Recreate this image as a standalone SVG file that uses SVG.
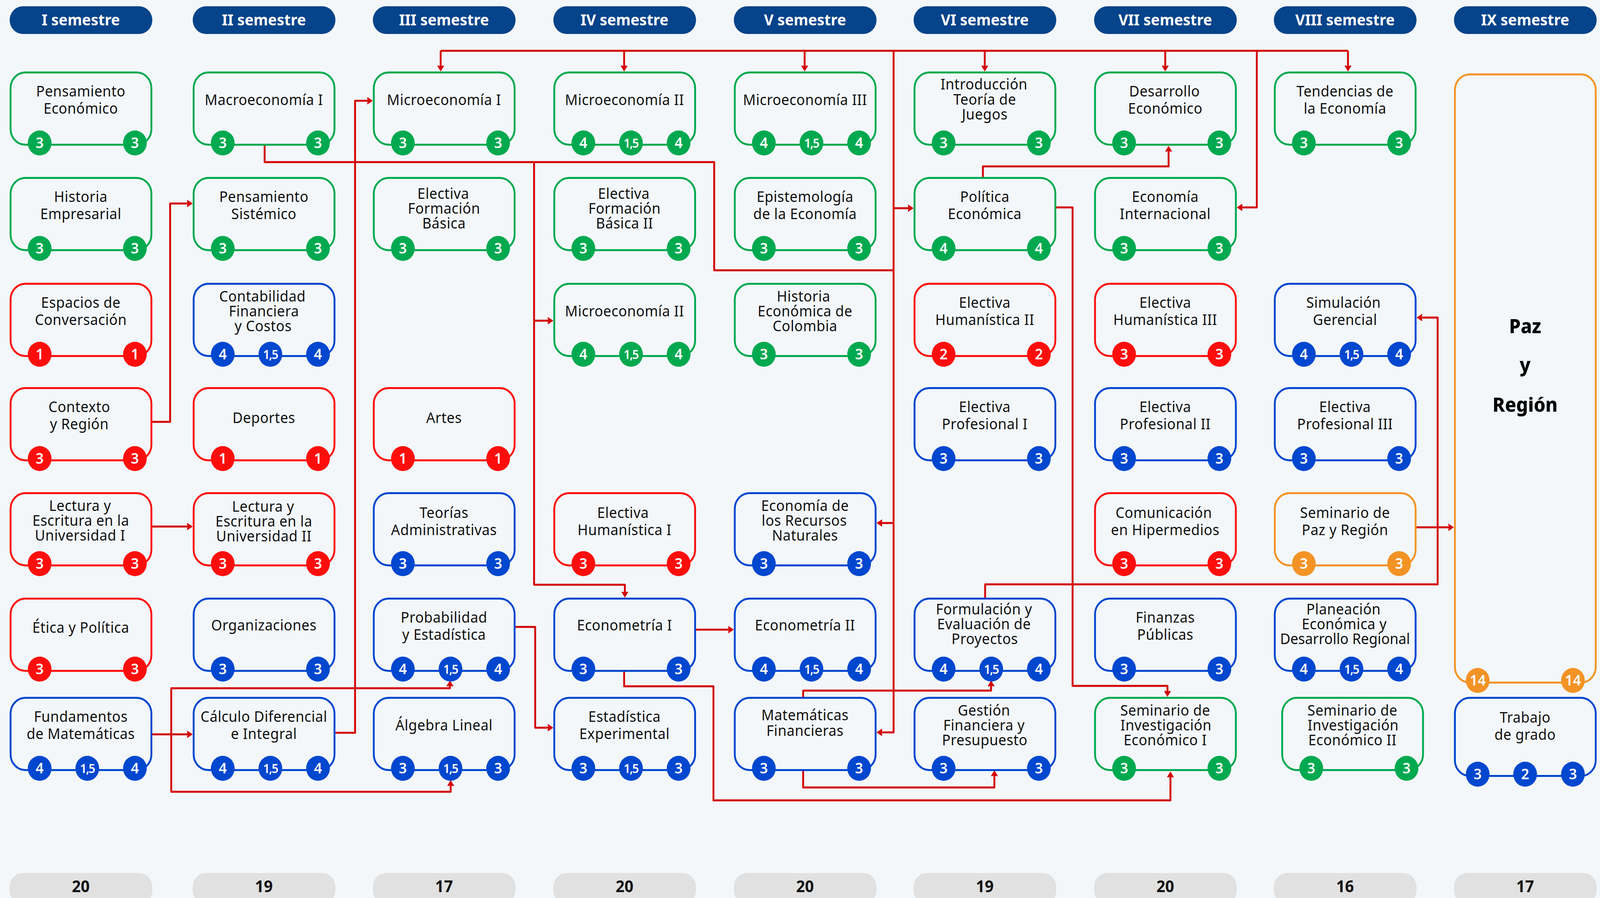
<svg xmlns="http://www.w3.org/2000/svg" width="4317" height="2299" viewBox="0 0 4317 2299" preserveAspectRatio="none" style="width:100vw;height:100vh;display:block">
<defs>
<style>
.bx{fill:none;stroke-width:5}
.g{stroke:#00A94F}.r{stroke:#FF0D0D}.b{stroke:#0047CF}.o{stroke:#F39325}
.cg{fill:#00A94F}.cr{fill:#FF0D0D}.cb{fill:#0047CF}.co{fill:#F39325}
.t{font-family:"Noto Sans","DejaVu Sans",sans-serif;font-size:38px;letter-spacing:0.6px;fill:#111;text-anchor:middle}
.n{font-family:"Noto Sans","DejaVu Sans",sans-serif;font-weight:600;font-size:38px;fill:#fff;text-anchor:middle}
.f{font-size:32px;letter-spacing:-2px}
.hd{fill:#05438A}
.ht{font-family:"Noto Sans","DejaVu Sans",sans-serif;font-weight:700;font-size:40px;fill:#fff;text-anchor:middle}
.ft{fill:#E1E1E1}
.fn{font-family:"Noto Sans","DejaVu Sans",sans-serif;font-weight:700;font-size:42px;fill:#111;text-anchor:middle}
.pz{font-family:"Noto Sans","DejaVu Sans",sans-serif;font-weight:800;font-size:50px;fill:#000;text-anchor:middle}
.cn path{fill:none;stroke:#D40000;stroke-width:5;stroke-linejoin:round}
.cn path.a{marker-end:url(#ah)}
</style>
<marker id="ah" markerUnits="userSpaceOnUse" markerWidth="24" markerHeight="24" viewBox="-24 -12 24 24" refX="-8" refY="0" orient="auto">
<path d="M0,0 L-15,-9.5 L-15,-3.5 L-8,0 L-15,3.5 L-15,9.5 Z" fill="#D40000"/>
</marker>
</defs>
<rect x="0" y="0" width="4317" height="2299" fill="#F3F7FA"/>

<g id="headers">
<rect class="hd" x="26" y="16" width="385" height="71" rx="35.5"/><text class="ht" x="218" y="65">I semestre</text>
<rect class="hd" x="520" y="16" width="385" height="71" rx="35.5"/><text class="ht" x="712" y="65">II semestre</text>
<rect class="hd" x="1006" y="16" width="385" height="71" rx="35.5"/><text class="ht" x="1198" y="65">III semestre</text>
<rect class="hd" x="1493" y="16" width="385" height="71" rx="35.5"/><text class="ht" x="1685" y="65">IV semestre</text>
<rect class="hd" x="1980" y="16" width="385" height="71" rx="35.5"/><text class="ht" x="2172" y="65">V semestre</text>
<rect class="hd" x="2465" y="16" width="385" height="71" rx="35.5"/><text class="ht" x="2657" y="65">VI semestre</text>
<rect class="hd" x="2952" y="16" width="385" height="71" rx="35.5"/><text class="ht" x="3144" y="65">VII semestre</text>
<rect class="hd" x="3437" y="16" width="385" height="71" rx="35.5"/><text class="ht" x="3629" y="65">VIII semestre</text>
<rect class="hd" x="3923" y="16" width="385" height="71" rx="35.5"/><text class="ht" x="4115" y="65">IX semestre</text>
</g>

<g id="footers">
<rect class="ft" x="26" y="2235" width="385" height="80" rx="35.5"/><text class="fn" x="218" y="2284">20</text>
<rect class="ft" x="520" y="2235" width="385" height="80" rx="35.5"/><text class="fn" x="712" y="2284">19</text>
<rect class="ft" x="1006" y="2235" width="385" height="80" rx="35.5"/><text class="fn" x="1198" y="2284">17</text>
<rect class="ft" x="1493" y="2235" width="385" height="80" rx="35.5"/><text class="fn" x="1685" y="2284">20</text>
<rect class="ft" x="1980" y="2235" width="385" height="80" rx="35.5"/><text class="fn" x="2172" y="2284">20</text>
<rect class="ft" x="2465" y="2235" width="385" height="80" rx="35.5"/><text class="fn" x="2657" y="2284">19</text>
<rect class="ft" x="2952" y="2235" width="385" height="80" rx="35.5"/><text class="fn" x="3144" y="2284">20</text>
<rect class="ft" x="3437" y="2235" width="385" height="80" rx="35.5"/><text class="fn" x="3629" y="2284">16</text>
<rect class="ft" x="3923" y="2235" width="385" height="80" rx="35.5"/><text class="fn" x="4115" y="2284">17</text>
</g>

<g class="cn" id="connectors">
<path d="M714,372 V415 H1927 V692 H2411"/>
<path d="M1189,130 H3637"/>
<path class="a" d="M1189,130 V175"/>
<path class="a" d="M1684,130 V175"/>
<path class="a" d="M2171,130 V175"/>
<path class="a" d="M2657,130 V175"/>
<path class="a" d="M3144,130 V175"/>
<path class="a" d="M3637,130 V175"/>
<path class="a" d="M3391,130 V531 H3345"/>
<path class="a" d="M2411,130 V1875 H2373"/>
<path class="a" d="M2411,533 H2457"/>
<path class="a" d="M2411,1339 H2373"/>
<path class="a" d="M1441,415 V1497 H1686 V1522"/>
<path class="a" d="M1441,821 H1485"/>
<path class="a" d="M905,1876 H958 V258 H998"/>
<path class="a" d="M411,1080 H459 V521 H512"/>
<path class="a" d="M411,1348 H512"/>
<path class="a" d="M411,1880 H512"/>
<path class="a" d="M462,1880 V1762 H1214 V1750"/>
<path class="a" d="M462,1880 V2027 H1216 V2005"/>
<path class="a" d="M1391,1605 H1444 V1863 H1485"/>
<path class="a" d="M1878,1612 H1972"/>
<path class="a" d="M1684,1718 V1757 H1925 V2049 H3158 V1983"/>
<path class="a" d="M2167,1784 V1768 H2674 V1750"/>
<path class="a" d="M2167,1973 V2016 H2683 V1980"/>
<path class="a" d="M2658,1530 V1496 H3879 V813 H3830"/>
<path class="a" d="M3822,1350 H3915"/>
<path class="a" d="M2652,453 V426 H3153 V381"/>
<path class="a" d="M2850,531 H2894 V1756 H3150 V1776"/>
</g>

<!-- Column I -->
<g id="pensamiento-economico"><rect class="bx g" x="28.5" y="185.5" width="380" height="185" rx="40"/>
<text class="t"><tspan x="218" y="247">Pensamiento</tspan><tspan x="218" y="291">Económico</tspan></text>
<circle class="cg" cx="107" cy="366" r="32"/><text class="n" x="107" y="379">3</text>
<circle class="cg" cx="364" cy="366" r="32"/><text class="n" x="364" y="379">3</text></g>

<g id="historia-empresarial"><rect class="bx g" x="28.5" y="455.5" width="380" height="185" rx="40"/>
<text class="t"><tspan x="218" y="517">Historia</tspan><tspan x="218" y="561">Empresarial</tspan></text>
<circle class="cg" cx="107" cy="636" r="32"/><text class="n" x="107" y="649">3</text>
<circle class="cg" cx="364" cy="636" r="32"/><text class="n" x="364" y="649">3</text></g>

<g id="espacios-conversacion"><rect class="bx r" x="28.5" y="726.5" width="380" height="185" rx="40"/>
<text class="t"><tspan x="218" y="788">Espacios de</tspan><tspan x="218" y="832">Conversación</tspan></text>
<circle class="cr" cx="107" cy="907" r="32"/><text class="n" x="107" y="920">1</text>
<circle class="cr" cx="364" cy="907" r="32"/><text class="n" x="364" y="920">1</text></g>

<g id="contexto-region"><rect class="bx r" x="28.5" y="993.5" width="380" height="185" rx="40"/>
<text class="t"><tspan x="214" y="1055">Contexto</tspan><tspan x="214" y="1099">y Región</tspan></text>
<circle class="cr" cx="107" cy="1174" r="32"/><text class="n" x="107" y="1187">3</text>
<circle class="cr" cx="364" cy="1174" r="32"/><text class="n" x="364" y="1187">3</text></g>

<g id="lectura-escritura-1"><rect class="bx r" x="28.5" y="1262.5" width="380" height="185" rx="40"/>
<text class="t"><tspan x="216" y="1308">Lectura y</tspan><tspan x="218" y="1346">Escritura en la</tspan><tspan x="216" y="1384">Universidad I</tspan></text>
<circle class="cr" cx="107" cy="1443" r="32"/><text class="n" x="107" y="1456">3</text>
<circle class="cr" cx="364" cy="1443" r="32"/><text class="n" x="364" y="1456">3</text></g>

<g id="etica-politica"><rect class="bx r" x="28.5" y="1532.5" width="380" height="185" rx="40"/>
<text class="t" x="218" y="1620">Ética y Política</text>
<circle class="cr" cx="107" cy="1713" r="32"/><text class="n" x="107" y="1726">3</text>
<circle class="cr" cx="364" cy="1713" r="32"/><text class="n" x="364" y="1726">3</text></g>

<g id="fundamentos-matematicas"><rect class="bx b" x="28.5" y="1786.5" width="380" height="185" rx="40"/>
<text class="t"><tspan x="218" y="1848">Fundamentos</tspan><tspan x="218" y="1892">de Matemáticas</tspan></text>
<circle class="cb" cx="107" cy="1967" r="32"/><text class="n" x="107" y="1980">4</text>
<circle class="cb" cx="235.5" cy="1967" r="32"/><text class="n f" x="235.5" y="1979">1,5</text>
<circle class="cb" cx="364" cy="1967" r="32"/><text class="n" x="364" y="1980">4</text></g>

<!-- Column II -->
<g id="macroeconomia-1"><rect class="bx g" x="522.5" y="185.5" width="380" height="185" rx="40"/>
<text class="t" x="712" y="269">Macroeconomía I</text>
<circle class="cg" cx="601" cy="366" r="32"/><text class="n" x="601" y="379">3</text>
<circle class="cg" cx="858" cy="366" r="32"/><text class="n" x="858" y="379">3</text></g>

<g id="pensamiento-sistemico"><rect class="bx g" x="522.5" y="455.5" width="380" height="185" rx="40"/>
<text class="t"><tspan x="712" y="517">Pensamiento</tspan><tspan x="712" y="561">Sistémico</tspan></text>
<circle class="cg" cx="601" cy="636" r="32"/><text class="n" x="601" y="649">3</text>
<circle class="cg" cx="858" cy="636" r="32"/><text class="n" x="858" y="649">3</text></g>

<g id="contabilidad"><rect class="bx b" x="522.5" y="726.5" width="380" height="185" rx="40"/>
<text class="t"><tspan x="708" y="772">Contabilidad</tspan><tspan x="712" y="810">Financiera</tspan><tspan x="710" y="848">y Costos</tspan></text>
<circle class="cb" cx="601" cy="907" r="32"/><text class="n" x="601" y="920">4</text>
<circle class="cb" cx="729.5" cy="907" r="32"/><text class="n f" x="729.5" y="919">1,5</text>
<circle class="cb" cx="858" cy="907" r="32"/><text class="n" x="858" y="920">4</text></g>

<g id="deportes"><rect class="bx r" x="522.5" y="993.5" width="380" height="185" rx="40"/>
<text class="t" x="712" y="1083">Deportes</text>
<circle class="cr" cx="601" cy="1174" r="32"/><text class="n" x="601" y="1187">1</text>
<circle class="cr" cx="858" cy="1174" r="32"/><text class="n" x="858" y="1187">1</text></g>

<g id="lectura-escritura-2"><rect class="bx r" x="522.5" y="1262.5" width="380" height="185" rx="40"/>
<text class="t"><tspan x="710" y="1310">Lectura y</tspan><tspan x="712" y="1348">Escritura en la</tspan><tspan x="712" y="1386">Universidad II</tspan></text>
<circle class="cr" cx="601" cy="1443" r="32"/><text class="n" x="601" y="1456">3</text>
<circle class="cr" cx="858" cy="1443" r="32"/><text class="n" x="858" y="1456">3</text></g>

<g id="organizaciones"><rect class="bx b" x="522.5" y="1532.5" width="380" height="185" rx="40"/>
<text class="t" x="712" y="1614">Organizaciones</text>
<circle class="cb" cx="601" cy="1713" r="32"/><text class="n" x="601" y="1726">3</text>
<circle class="cb" cx="858" cy="1713" r="32"/><text class="n" x="858" y="1726">3</text></g>

<g id="calculo"><rect class="bx b" x="522.5" y="1786.5" width="380" height="185" rx="40"/>
<text class="t"><tspan x="712" y="1848">Cálculo Diferencial</tspan><tspan x="712" y="1892">e Integral</tspan></text>
<circle class="cb" cx="601" cy="1967" r="32"/><text class="n" x="601" y="1980">4</text>
<circle class="cb" cx="729.5" cy="1967" r="32"/><text class="n f" x="729.5" y="1979">1,5</text>
<circle class="cb" cx="858" cy="1967" r="32"/><text class="n" x="858" y="1980">4</text></g>

<!-- Column III -->
<g id="microeconomia-1"><rect class="bx g" x="1008.5" y="185.5" width="380" height="185" rx="40"/>
<text class="t" x="1198" y="269">Microeconomía I</text>
<circle class="cg" cx="1087" cy="366" r="32"/><text class="n" x="1087" y="379">3</text>
<circle class="cg" cx="1344" cy="366" r="32"/><text class="n" x="1344" y="379">3</text></g>

<g id="electiva-formacion-basica"><rect class="bx g" x="1008.5" y="455.5" width="380" height="185" rx="40"/>
<text class="t"><tspan x="1196" y="509">Electiva</tspan><tspan x="1198" y="547">Formación</tspan><tspan x="1198" y="585">Básica</tspan></text>
<circle class="cg" cx="1087" cy="636" r="32"/><text class="n" x="1087" y="649">3</text>
<circle class="cg" cx="1344" cy="636" r="32"/><text class="n" x="1344" y="649">3</text></g>

<g id="artes"><rect class="bx r" x="1008.5" y="993.5" width="380" height="185" rx="40"/>
<text class="t" x="1198" y="1083">Artes</text>
<circle class="cr" cx="1087" cy="1174" r="32"/><text class="n" x="1087" y="1187">1</text>
<circle class="cr" cx="1344" cy="1174" r="32"/><text class="n" x="1344" y="1187">1</text></g>

<g id="teorias-administrativas"><rect class="bx b" x="1008.5" y="1262.5" width="380" height="185" rx="40"/>
<text class="t"><tspan x="1198" y="1326">Teorías</tspan><tspan x="1198" y="1370">Administrativas</tspan></text>
<circle class="cb" cx="1087" cy="1443" r="32"/><text class="n" x="1087" y="1456">3</text>
<circle class="cb" cx="1344" cy="1443" r="32"/><text class="n" x="1344" y="1456">3</text></g>

<g id="probabilidad"><rect class="bx b" x="1008.5" y="1532.5" width="380" height="185" rx="40"/>
<text class="t"><tspan x="1198" y="1594">Probabilidad</tspan><tspan x="1198" y="1638">y Estadística</tspan></text>
<circle class="cb" cx="1087" cy="1713" r="32"/><text class="n" x="1087" y="1726">4</text>
<circle class="cb" cx="1215.5" cy="1713" r="32"/><text class="n f" x="1215.5" y="1725">1,5</text>
<circle class="cb" cx="1344" cy="1713" r="32"/><text class="n" x="1344" y="1726">4</text></g>

<g id="algebra-lineal"><rect class="bx b" x="1008.5" y="1786.5" width="380" height="185" rx="40"/>
<text class="t" x="1198" y="1870">Álgebra Lineal</text>
<circle class="cb" cx="1087" cy="1967" r="32"/><text class="n" x="1087" y="1980">3</text>
<circle class="cb" cx="1215.5" cy="1967" r="32"/><text class="n f" x="1215.5" y="1979">1,5</text>
<circle class="cb" cx="1344" cy="1967" r="32"/><text class="n" x="1344" y="1980">3</text></g>

<!-- Column IV -->
<g id="microeconomia-2"><rect class="bx g" x="1495.5" y="185.5" width="380" height="185" rx="40"/>
<text class="t" x="1685" y="269">Microeconomía II</text>
<circle class="cg" cx="1574" cy="366" r="32"/><text class="n" x="1574" y="379">4</text>
<circle class="cg" cx="1702.5" cy="366" r="32"/><text class="n f" x="1702.5" y="378">1,5</text>
<circle class="cg" cx="1831" cy="366" r="32"/><text class="n" x="1831" y="379">4</text></g>

<g id="electiva-formacion-basica-2"><rect class="bx g" x="1495.5" y="455.5" width="380" height="185" rx="40"/>
<text class="t"><tspan x="1683" y="509">Electiva</tspan><tspan x="1685" y="547">Formación</tspan><tspan x="1685" y="585">Básica II</tspan></text>
<circle class="cg" cx="1574" cy="636" r="32"/><text class="n" x="1574" y="649">3</text>
<circle class="cg" cx="1831" cy="636" r="32"/><text class="n" x="1831" y="649">3</text></g>

<g id="microeconomia-2b"><rect class="bx g" x="1495.5" y="726.5" width="380" height="185" rx="40"/>
<text class="t" x="1685" y="810">Microeconomía II</text>
<circle class="cg" cx="1574" cy="907" r="32"/><text class="n" x="1574" y="920">4</text>
<circle class="cg" cx="1702.5" cy="907" r="32"/><text class="n f" x="1702.5" y="919">1,5</text>
<circle class="cg" cx="1831" cy="907" r="32"/><text class="n" x="1831" y="920">4</text></g>

<g id="electiva-humanistica-1"><rect class="bx r" x="1495.5" y="1262.5" width="380" height="185" rx="40"/>
<text class="t"><tspan x="1681" y="1326">Electiva</tspan><tspan x="1685" y="1370">Humanística I</tspan></text>
<circle class="cr" cx="1574" cy="1443" r="32"/><text class="n" x="1574" y="1456">3</text>
<circle class="cr" cx="1831" cy="1443" r="32"/><text class="n" x="1831" y="1456">3</text></g>

<g id="econometria-1"><rect class="bx b" x="1495.5" y="1532.5" width="380" height="185" rx="40"/>
<text class="t" x="1685" y="1614">Econometría I</text>
<circle class="cb" cx="1574" cy="1713" r="32"/><text class="n" x="1574" y="1726">3</text>
<circle class="cb" cx="1831" cy="1713" r="32"/><text class="n" x="1831" y="1726">3</text></g>

<g id="estadistica-experimental"><rect class="bx b" x="1495.5" y="1786.5" width="380" height="185" rx="40"/>
<text class="t"><tspan x="1685" y="1848">Estadística</tspan><tspan x="1685" y="1892">Experimental</tspan></text>
<circle class="cb" cx="1574" cy="1967" r="32"/><text class="n" x="1574" y="1980">3</text>
<circle class="cb" cx="1702.5" cy="1967" r="32"/><text class="n f" x="1702.5" y="1979">1,5</text>
<circle class="cb" cx="1831" cy="1967" r="32"/><text class="n" x="1831" y="1980">3</text></g>

<!-- Column V -->
<g id="microeconomia-3"><rect class="bx g" x="1982.5" y="185.5" width="380" height="185" rx="40"/>
<text class="t" x="2172" y="269">Microeconomía III</text>
<circle class="cg" cx="2061" cy="366" r="32"/><text class="n" x="2061" y="379">4</text>
<circle class="cg" cx="2189.5" cy="366" r="32"/><text class="n f" x="2189.5" y="378">1,5</text>
<circle class="cg" cx="2318" cy="366" r="32"/><text class="n" x="2318" y="379">4</text></g>

<g id="epistemologia"><rect class="bx g" x="1982.5" y="455.5" width="380" height="185" rx="40"/>
<text class="t"><tspan x="2172" y="517">Epistemología</tspan><tspan x="2172" y="561">de la Economía</tspan></text>
<circle class="cg" cx="2061" cy="636" r="32"/><text class="n" x="2061" y="649">3</text>
<circle class="cg" cx="2318" cy="636" r="32"/><text class="n" x="2318" y="649">3</text></g>

<g id="historia-economica-colombia"><rect class="bx g" x="1982.5" y="726.5" width="380" height="185" rx="40"/>
<text class="t"><tspan x="2168" y="772">Historia</tspan><tspan x="2172" y="810">Económica de</tspan><tspan x="2172" y="848">Colombia</tspan></text>
<circle class="cg" cx="2061" cy="907" r="32"/><text class="n" x="2061" y="920">3</text>
<circle class="cg" cx="2318" cy="907" r="32"/><text class="n" x="2318" y="920">3</text></g>

<g id="economia-recursos-naturales"><rect class="bx b" x="1982.5" y="1262.5" width="380" height="185" rx="40"/>
<text class="t"><tspan x="2172" y="1308">Economía de</tspan><tspan x="2170" y="1346">los Recursos</tspan><tspan x="2172" y="1384">Naturales</tspan></text>
<circle class="cb" cx="2061" cy="1443" r="32"/><text class="n" x="2061" y="1456">3</text>
<circle class="cb" cx="2318" cy="1443" r="32"/><text class="n" x="2318" y="1456">3</text></g>

<g id="econometria-2"><rect class="bx b" x="1982.5" y="1532.5" width="380" height="185" rx="40"/>
<text class="t" x="2172" y="1614">Econometría II</text>
<circle class="cb" cx="2061" cy="1713" r="32"/><text class="n" x="2061" y="1726">4</text>
<circle class="cb" cx="2189.5" cy="1713" r="32"/><text class="n f" x="2189.5" y="1725">1,5</text>
<circle class="cb" cx="2318" cy="1713" r="32"/><text class="n" x="2318" y="1726">4</text></g>

<g id="matematicas-financieras"><rect class="bx b" x="1982.5" y="1786.5" width="380" height="185" rx="40"/>
<text class="t"><tspan x="2172" y="1844">Matemáticas</tspan><tspan x="2172" y="1884">Financieras</tspan></text>
<circle class="cb" cx="2061" cy="1967" r="32"/><text class="n" x="2061" y="1980">3</text>
<circle class="cb" cx="2318" cy="1967" r="32"/><text class="n" x="2318" y="1980">3</text></g>

<!-- Column VI -->
<g id="teoria-juegos"><rect class="bx g" x="2467.5" y="185.5" width="380" height="185" rx="40"/>
<text class="t"><tspan x="2655" y="229">Introducción</tspan><tspan x="2657" y="268">Teoría de</tspan><tspan x="2657" y="306">Juegos</tspan></text>
<circle class="cg" cx="2546" cy="366" r="32"/><text class="n" x="2546" y="379">3</text>
<circle class="cg" cx="2803" cy="366" r="32"/><text class="n" x="2803" y="379">3</text></g>

<g id="politica-economica"><rect class="bx g" x="2467.5" y="455.5" width="380" height="185" rx="40"/>
<text class="t"><tspan x="2657" y="517">Política</tspan><tspan x="2657" y="561">Económica</tspan></text>
<circle class="cg" cx="2546" cy="636" r="32"/><text class="n" x="2546" y="649">4</text>
<circle class="cg" cx="2803" cy="636" r="32"/><text class="n" x="2803" y="649">4</text></g>

<g id="electiva-humanistica-2"><rect class="bx r" x="2467.5" y="726.5" width="380" height="185" rx="40"/>
<text class="t"><tspan x="2657" y="788">Electiva</tspan><tspan x="2657" y="832">Humanística II</tspan></text>
<circle class="cr" cx="2546" cy="907" r="32"/><text class="n" x="2546" y="920">2</text>
<circle class="cr" cx="2803" cy="907" r="32"/><text class="n" x="2803" y="920">2</text></g>

<g id="electiva-profesional-1"><rect class="bx b" x="2467.5" y="993.5" width="380" height="185" rx="40"/>
<text class="t"><tspan x="2657" y="1055">Electiva</tspan><tspan x="2657" y="1099">Profesional I</tspan></text>
<circle class="cb" cx="2546" cy="1174" r="32"/><text class="n" x="2546" y="1187">3</text>
<circle class="cb" cx="2803" cy="1174" r="32"/><text class="n" x="2803" y="1187">3</text></g>

<g id="formulacion-proyectos"><rect class="bx b" x="2467.5" y="1532.5" width="380" height="185" rx="40"/>
<text class="t"><tspan x="2655" y="1573">Formulación y</tspan><tspan x="2655" y="1611">Evaluación de</tspan><tspan x="2657" y="1649">Proyectos</tspan></text>
<circle class="cb" cx="2546" cy="1713" r="32"/><text class="n" x="2546" y="1726">4</text>
<circle class="cb" cx="2674.5" cy="1713" r="32"/><text class="n f" x="2674.5" y="1725">1,5</text>
<circle class="cb" cx="2803" cy="1713" r="32"/><text class="n" x="2803" y="1726">4</text></g>

<g id="gestion-financiera"><rect class="bx b" x="2467.5" y="1786.5" width="380" height="185" rx="40"/>
<text class="t"><tspan x="2655" y="1832">Gestión</tspan><tspan x="2655" y="1870">Financiera y</tspan><tspan x="2657" y="1908">Presupuesto</tspan></text>
<circle class="cb" cx="2546" cy="1967" r="32"/><text class="n" x="2546" y="1980">3</text>
<circle class="cb" cx="2803" cy="1967" r="32"/><text class="n" x="2803" y="1980">3</text></g>

<!-- Column VII -->
<g id="desarrollo-economico"><rect class="bx g" x="2954.5" y="185.5" width="380" height="185" rx="40"/>
<text class="t"><tspan x="3142" y="247">Desarrollo</tspan><tspan x="3144" y="291">Económico</tspan></text>
<circle class="cg" cx="3033" cy="366" r="32"/><text class="n" x="3033" y="379">3</text>
<circle class="cg" cx="3290" cy="366" r="32"/><text class="n" x="3290" y="379">3</text></g>

<g id="economia-internacional"><rect class="bx g" x="2954.5" y="455.5" width="380" height="185" rx="40"/>
<text class="t"><tspan x="3144" y="517">Economía</tspan><tspan x="3144" y="561">Internacional</tspan></text>
<circle class="cg" cx="3033" cy="636" r="32"/><text class="n" x="3033" y="649">3</text>
<circle class="cg" cx="3290" cy="636" r="32"/><text class="n" x="3290" y="649">3</text></g>

<g id="electiva-humanistica-3"><rect class="bx r" x="2954.5" y="726.5" width="380" height="185" rx="40"/>
<text class="t"><tspan x="3144" y="788">Electiva</tspan><tspan x="3144" y="832">Humanística III</tspan></text>
<circle class="cr" cx="3033" cy="907" r="32"/><text class="n" x="3033" y="920">3</text>
<circle class="cr" cx="3290" cy="907" r="32"/><text class="n" x="3290" y="920">3</text></g>

<g id="electiva-profesional-2"><rect class="bx b" x="2954.5" y="993.5" width="380" height="185" rx="40"/>
<text class="t"><tspan x="3144" y="1055">Electiva</tspan><tspan x="3144" y="1099">Profesional II</tspan></text>
<circle class="cb" cx="3033" cy="1174" r="32"/><text class="n" x="3033" y="1187">3</text>
<circle class="cb" cx="3290" cy="1174" r="32"/><text class="n" x="3290" y="1187">3</text></g>

<g id="comunicacion-hipermedios"><rect class="bx r" x="2954.5" y="1262.5" width="380" height="185" rx="40"/>
<text class="t"><tspan x="3140" y="1326">Comunicación</tspan><tspan x="3144" y="1370">en Hipermedios</tspan></text>
<circle class="cr" cx="3033" cy="1443" r="32"/><text class="n" x="3033" y="1456">3</text>
<circle class="cr" cx="3290" cy="1443" r="32"/><text class="n" x="3290" y="1456">3</text></g>

<g id="finanzas-publicas"><rect class="bx b" x="2954.5" y="1532.5" width="380" height="185" rx="40"/>
<text class="t"><tspan x="3144" y="1594">Finanzas</tspan><tspan x="3144" y="1638">Públicas</tspan></text>
<circle class="cb" cx="3033" cy="1713" r="32"/><text class="n" x="3033" y="1726">3</text>
<circle class="cb" cx="3290" cy="1713" r="32"/><text class="n" x="3290" y="1726">3</text></g>

<g id="seminario-investigacion-1"><rect class="bx g" x="2954.5" y="1786.5" width="380" height="185" rx="40"/>
<text class="t"><tspan x="3144" y="1832">Seminario de</tspan><tspan x="3146" y="1870">Investigación</tspan><tspan x="3144" y="1908">Económico I</tspan></text>
<circle class="cg" cx="3033" cy="1967" r="32"/><text class="n" x="3033" y="1980">3</text>
<circle class="cg" cx="3290" cy="1967" r="32"/><text class="n" x="3290" y="1980">3</text></g>

<!-- Column VIII -->
<g id="tendencias-economia"><rect class="bx g" x="3439.5" y="185.5" width="380" height="185" rx="40"/>
<text class="t"><tspan x="3629" y="247">Tendencias de</tspan><tspan x="3629" y="291">la Economía</tspan></text>
<circle class="cg" cx="3518" cy="366" r="32"/><text class="n" x="3518" y="379">3</text>
<circle class="cg" cx="3775" cy="366" r="32"/><text class="n" x="3775" y="379">3</text></g>

<g id="simulacion-gerencial"><rect class="bx b" x="3439.5" y="726.5" width="380" height="185" rx="40"/>
<text class="t"><tspan x="3625" y="788">Simulación</tspan><tspan x="3629" y="832">Gerencial</tspan></text>
<circle class="cb" cx="3518" cy="907" r="32"/><text class="n" x="3518" y="920">4</text>
<circle class="cb" cx="3646.5" cy="907" r="32"/><text class="n f" x="3646.5" y="919">1,5</text>
<circle class="cb" cx="3775" cy="907" r="32"/><text class="n" x="3775" y="920">4</text></g>

<g id="electiva-profesional-3"><rect class="bx b" x="3439.5" y="993.5" width="380" height="185" rx="40"/>
<text class="t"><tspan x="3629" y="1055">Electiva</tspan><tspan x="3629" y="1099">Profesional III</tspan></text>
<circle class="cb" cx="3518" cy="1174" r="32"/><text class="n" x="3518" y="1187">3</text>
<circle class="cb" cx="3775" cy="1174" r="32"/><text class="n" x="3775" y="1187">3</text></g>

<g id="seminario-paz-region"><rect class="bx o" x="3439.5" y="1262.5" width="380" height="185" rx="40"/>
<text class="t"><tspan x="3629" y="1326">Seminario de</tspan><tspan x="3629" y="1370">Paz y Región</tspan></text>
<circle class="co" cx="3518" cy="1443" r="32"/><text class="n" x="3518" y="1456">3</text>
<circle class="co" cx="3775" cy="1443" r="32"/><text class="n" x="3775" y="1456">3</text></g>

<g id="planeacion-economica"><rect class="bx b" x="3439.5" y="1532.5" width="380" height="185" rx="40"/>
<text class="t"><tspan x="3625" y="1573">Planeación</tspan><tspan x="3627" y="1611">Económica y</tspan><tspan x="3629" y="1649" style="letter-spacing:0">Desarrollo Regional</tspan></text>
<circle class="cb" cx="3518" cy="1713" r="32"/><text class="n" x="3518" y="1726">4</text>
<circle class="cb" cx="3646.5" cy="1713" r="32"/><text class="n f" x="3646.5" y="1725">1,5</text>
<circle class="cb" cx="3775" cy="1713" r="32"/><text class="n" x="3775" y="1726">4</text></g>

<g id="seminario-investigacion-2"><rect class="bx g" x="3459.5" y="1786.5" width="380" height="185" rx="40"/>
<text class="t"><tspan x="3649" y="1832">Seminario de</tspan><tspan x="3651" y="1870">Investigación</tspan><tspan x="3649" y="1908">Económico II</tspan></text>
<circle class="cg" cx="3538" cy="1967" r="32"/><text class="n" x="3538" y="1980">3</text>
<circle class="cg" cx="3795" cy="1967" r="32"/><text class="n" x="3795" y="1980">3</text></g>

<!-- Column IX -->
<g id="paz-region"><rect class="bx o" x="3925.5" y="190.5" width="380" height="1557" rx="40"/>
<text class="pz"><tspan x="4115" y="853">Paz</tspan><tspan x="4115" y="952">y</tspan><tspan x="4115" y="1054">Región</tspan></text>
<circle class="co" cx="3987" cy="1742" r="32"/><text class="n" x="3987" y="1755">14</text>
<circle class="co" cx="4244" cy="1742" r="32"/><text class="n" x="4244" y="1755">14</text></g>

<g id="trabajo-grado"><rect class="bx b" x="3925.5" y="1786.5" width="380" height="200" rx="40"/>
<text class="t"><tspan x="4115" y="1850">Trabajo</tspan><tspan x="4115" y="1894">de grado</tspan></text>
<circle class="cb" cx="3987" cy="1982" r="32"/><text class="n" x="3987" y="1995">3</text>
<circle class="cb" cx="4115" cy="1982" r="32"/><text class="n" x="4115" y="1995">2</text>
<circle class="cb" cx="4244" cy="1982" r="32"/><text class="n" x="4244" y="1995">3</text></g>
</svg>
